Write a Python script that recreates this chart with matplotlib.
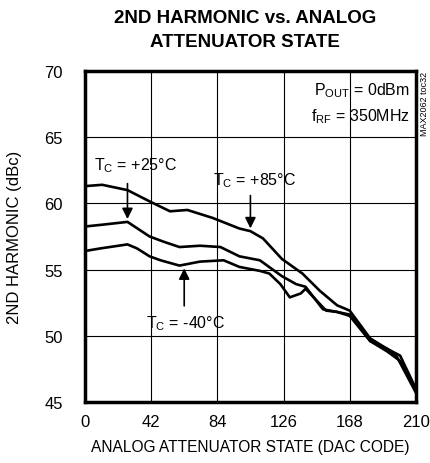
import matplotlib
matplotlib.use("Agg")
import matplotlib.pyplot as plt
from matplotlib import font_manager

# ---------------------------------------------------------------------------
# Data
# ---------------------------------------------------------------------------
code_85 = [0, 11, 27, 41, 54, 65, 81, 98, 105, 113, 125, 138, 149, 160, 168,
           181, 192, 200, 210]
harm_85 = [61.3, 61.4, 61.0, 60.15, 59.4, 59.5, 58.9, 58.1, 57.9, 57.35, 55.8,
           54.7, 53.4, 52.3, 51.9, 49.8, 49.0, 48.5, 46.0]

code_25 = [0, 12, 27, 41, 50, 60, 73, 86, 98, 111, 125, 134, 140, 151, 160,
           168, 181, 192, 200, 210]
harm_25 = [58.25, 58.4, 58.6, 57.5, 57.1, 56.7, 56.8, 56.7, 56.0, 55.7, 54.5,
           53.9, 53.7, 52.0, 51.8, 51.5, 49.6, 48.8, 48.1, 45.9]

code_m40 = [0, 10, 27, 33, 41, 48, 60, 73, 88, 98, 111, 117, 124, 130, 137,
            140, 153, 160, 168, 181, 192, 198, 210]
harm_m40 = [56.4, 56.6, 56.9, 56.6, 56.0, 55.7, 55.3, 55.6, 55.7, 55.2, 54.9,
            54.7, 53.9, 52.9, 53.2, 53.55, 51.9, 51.8, 51.6, 49.6, 49.0, 48.4,
            45.7]

x_ticks = [0, 42, 84, 126, 168, 210]
y_ticks = [45, 50, 55, 60, 65, 70]

names = {f.name for f in font_manager.fontManager.ttflist}
narrow = "Liberation Sans Narrow" if "Liberation Sans Narrow" in names else "Liberation Sans"
plt.rcParams["font.family"] = [narrow, "DejaVu Sans"]
plt.rcParams["mathtext.fontset"] = "custom"
plt.rcParams["mathtext.rm"] = narrow

fig = plt.figure(figsize=(4.31, 4.64), dpi=100)
ax = fig.add_axes([0.197, 0.1315, 0.768, 0.7135])

for xs, ys in [(code_85, harm_85), (code_25, harm_25), (code_m40, harm_m40)]:
    ax.plot(xs, ys, color="black", linewidth=1.9, zorder=3,
            solid_joinstyle="round")

ax.set_xlim(0, 210)
ax.set_ylim(45, 70)
ax.set_xticks(x_ticks)
ax.set_yticks(y_ticks)
ax.tick_params(axis="x", length=0, labelsize=12, pad=9)
ax.tick_params(axis="y", length=0, labelsize=12, pad=16)
ax.grid(True, color="black", linewidth=0.8)
for s in ax.spines.values():
    s.set_linewidth(2.5)

ax.set_xlabel("ANALOG ATTENUATOR STATE (DAC CODE)", fontsize=11.2, labelpad=7)
ax.set_ylabel("2ND HARMONIC (dBc)", fontsize=12, labelpad=16)

fig.text(0.568, 0.978, "2ND HARMONIC vs. ANALOG\nATTENUATOR STATE",
         ha="center", va="top", fontsize=13.5, fontweight="bold",
         linespacing=1.5)

# annotations
arrow = dict(arrowstyle="-|>", color="black", lw=1.2, mutation_scale=16)
ax.text(6, 62.2, "T$_\\mathrm{C}$ = +25°C", fontsize=11.5, va="bottom")
ax.annotate("", xy=(27, 58.6), xytext=(27, 61.7), arrowprops=arrow)
ax.text(81, 61.1, "T$_\\mathrm{C}$ = +85°C", fontsize=11.5, va="bottom")
ax.annotate("", xy=(105, 57.9), xytext=(105, 60.8), arrowprops=arrow)
ax.text(64, 51.0, "T$_\\mathrm{C}$ = -40°C", fontsize=11.5, va="center",
        ha="center")
ax.annotate("", xy=(63, 55.3), xytext=(63, 52.05), arrowprops=arrow)

ax.text(206, 68.55, "P$_\\mathrm{OUT}$ = 0dBm", fontsize=11.5, ha="right",
        va="center")
ax.text(206, 66.6, "f$_\\mathrm{RF}$ = 350MHz", fontsize=11.5, ha="right",
        va="center")
fig.text(0.986, 0.845, "MAX2062 toc32", rotation=90, fontsize=6.5,
         ha="center", va="top")

fig.savefig("out.png", dpi=100)
